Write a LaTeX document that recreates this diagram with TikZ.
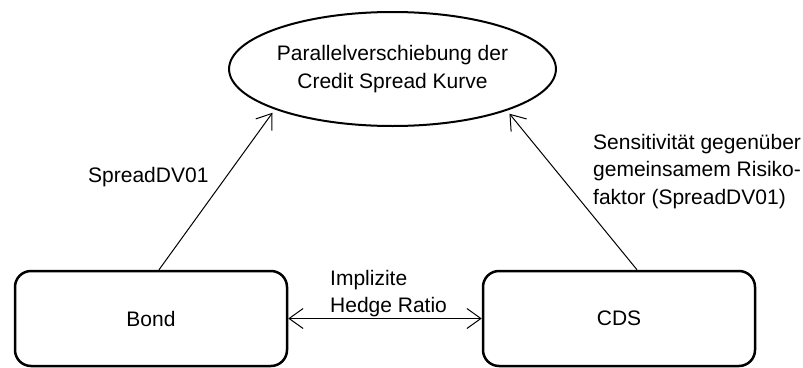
\documentclass[tikz,border=0pt]{standalone}
\usepackage{fontspec}
\setmainfont{Liberation Sans}
\usetikzlibrary{shapes.geometric,arrows.meta}
\begin{document}
\begin{tikzpicture}[x=1pt,y=-1pt,
  every node/.style={font=\fontsize{21}{27.5}\selectfont},
  boxnode/.style={draw,line width=2.5pt,rounded corners=16pt,minimum width=272pt,minimum height=95pt,inner sep=0pt},
  ellnode/.style={draw,ellipse,line width=2pt,minimum width=309pt,minimum height=114pt,inner sep=0pt,align=center},
  lbl/.style={inner sep=0pt,align=left},
  conn/.style={line width=1pt,-{Straight Barb[length=14pt,width=20pt,line width=1pt]}},
  dconn/.style={line width=1pt,{Straight Barb[length=14pt,width=20pt,line width=1pt]}-{Straight Barb[length=14pt,width=20pt,line width=1pt]}}]
\useasboundingbox (0,0) rectangle (803,367);
\node[ellnode] (ell) at (392.5,69) {Parallelverschiebung der\\Credit Spread Kurve};
\node[boxnode] (bond) at (151,318.5) {Bond};
\node[boxnode] (cds) at (619,318.5) {CDS};
\draw[conn,shorten >=4pt] ([xshift=8pt]bond.north) -- (ell.199);
\draw[conn,shorten >=4pt] ([xshift=18pt]cds.north) -- (ell.340);
\draw[dconn] (bond.east) -- (cds.east -| cds.west);
\node[lbl,anchor=west] (l1) at (88,177) {SpreadDV01};
\node[lbl,anchor=west] (l2) at (593,171.5) {Sensitivität gegenüber\\gemeinsamem Risiko-\\faktor (SpreadDV01)};
\node[lbl,anchor=west] (l3) at (330,293.5) {Implizite\\Hedge Ratio};
\end{tikzpicture}
\end{document}
